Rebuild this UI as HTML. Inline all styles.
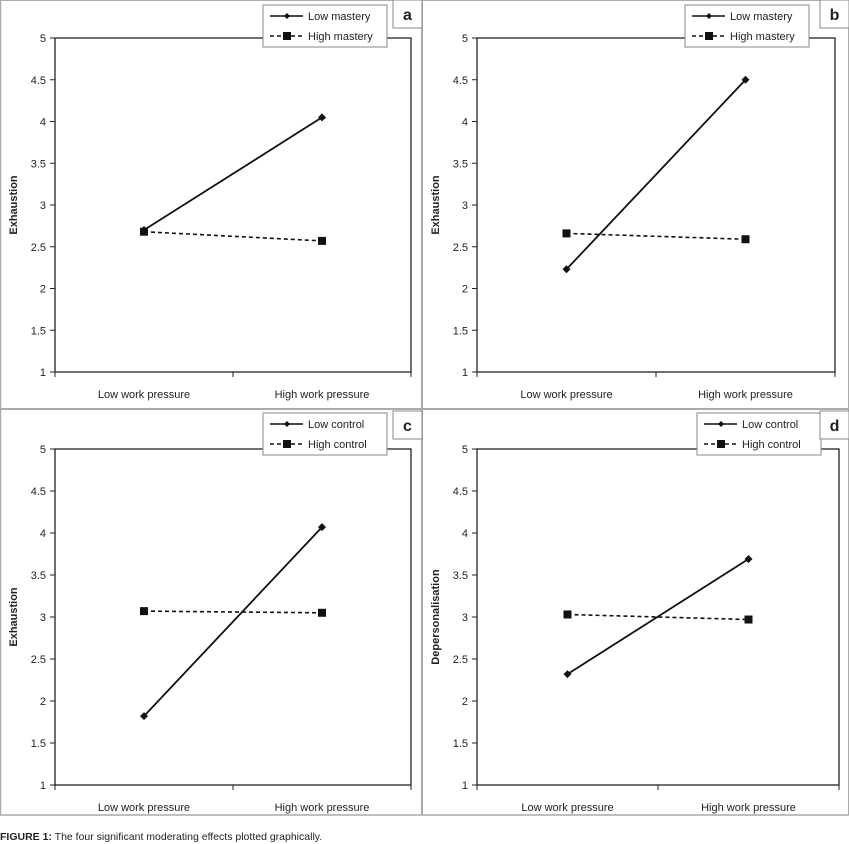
<!DOCTYPE html>
<html><head><meta charset="utf-8"><style>
body{margin:0;background:#fff;}
svg{display:block;font-family:"Liberation Sans",sans-serif;}
</style></head><body>
<svg id="fig" width="849" height="844"></svg>
<script>
const categories=["Low work pressure","High work pressure"];
const yTicks=[1,1.5,2,2.5,3,3.5,4,4.5,5];
const panelLabels=["a","b","c","d"];
const yTitles=["Exhaustion","Exhaustion","Exhaustion","Depersonalisation"];
const legendLow=["Low mastery","Low mastery","Low control","Low control"];
const legendHigh=["High mastery","High mastery","High control","High control"];
const lowSeries=[[2.70,4.05],[2.23,4.50],[1.82,4.07],[2.32,3.69]];
const highSeries=[[2.68,2.57],[2.66,2.59],[3.07,3.05],[3.03,2.97]];
const NS="http://www.w3.org/2000/svg";
const svg=document.getElementById('fig');
function mk(t,a,p){const e=document.createElementNS(NS,t);for(const k in a)e.setAttribute(k,a[k]);(p||svg).appendChild(e);return e;}
const frames=[{x0:0,y0:0,l:55,r:411,t:38,b:372},{x0:422,y0:0,l:477,r:835,t:38,b:372},
{x0:0,y0:410,l:55,r:411,t:449,b:785},{x0:422,y0:410,l:477,r:839,t:449,b:785}];
// panel borders
let e=mk('line',{x1:0.5,y1:0,x2:0.5,y2:815,stroke:'#aaa','stroke-width':1.5});

e=mk('line',{x1:422,y1:0,x2:422,y2:815,stroke:'#aaa','stroke-width':2});

e=mk('line',{x1:0,y1:409,x2:849,y2:409,stroke:'#aaa','stroke-width':2});

e=mk('line',{x1:0,y1:815,x2:849,y2:815,stroke:'#aaa','stroke-width':1.5});

e=mk('line',{x1:0,y1:0.5,x2:849,y2:0.5,stroke:'#aaa','stroke-width':1});

e=mk('line',{x1:848.5,y1:0,x2:848.5,y2:815,stroke:'#aaa','stroke-width':1});

frames.forEach((f,i)=>{
 const g=mk('g',{});
 
 
 const ys=v=>f.b-(v-1)/4*(f.b-f.t);
 const xs=j=>f.l+(j+0.5)/categories.length*(f.r-f.l);
 e=mk('rect',{x:f.l,y:f.t,width:f.r-f.l,height:f.b-f.t,fill:'none',stroke:'#222','stroke-width':1.3},g);
 
 yTicks.forEach(v=>{
  e=mk('line',{x1:f.l-5,y1:ys(v),x2:f.l,y2:ys(v),stroke:'#222'},g);
  
  e=mk('text',{x:f.l-9,y:ys(v)+4,'text-anchor':'end','font-size':11,fill:'#222'},g);
  e.textContent=String(v);
  
 });
 [0,1,2].forEach(k=>{const x=f.l+k/2*(f.r-f.l);
  e=mk('line',{x1:x,y1:f.b,x2:x,y2:f.b+5,stroke:'#222'},g);
  });
 categories.forEach((c,j)=>{
  e=mk('text',{x:xs(j),y:f.b+26,'text-anchor':'middle','font-size':11,fill:'#222'},g);
  e.textContent=c;
  
 });
 const cy=(f.t+f.b)/2;
 e=mk('text',{x:f.x0+17,y:cy,'text-anchor':'middle','font-size':11,'font-weight':'bold',fill:'#222',transform:`rotate(-90 ${f.x0+17} ${cy})`},g);
 e.textContent=yTitles[i];
 
 // series
 const hi=highSeries[i], lo=lowSeries[i];
 e=mk('line',{x1:xs(0),y1:ys(hi[0]),x2:xs(1),y2:ys(hi[1]),stroke:'#111','stroke-width':1.6,'stroke-dasharray':'4,3'},g);
 
 hi.forEach((v,j)=>{e=mk('rect',{x:xs(j)-4,y:ys(v)-4,width:8,height:8,fill:'#111'},g);
  });
 e=mk('line',{x1:xs(0),y1:ys(lo[0]),x2:xs(1),y2:ys(lo[1]),stroke:'#111','stroke-width':1.8},g);
 
 lo.forEach((v,j)=>{const x=xs(j),y=ys(v);
  e=mk('polygon',{points:`${x},${y-4} ${x+4},${y} ${x},${y+4} ${x-4},${y}`,fill:'#111'},g);
  });
 // legend
 const lx=f.r-148+(i==3?6:0)-(i==1?2:0), ly=f.y0+5+(i>=2?-2:0);
 const lg=mk('g',{},g);
 
 e=mk('rect',{x:lx,y:ly,width:124,height:42,fill:'#fff',stroke:'#888'},lg);
 
 e=mk('line',{x1:lx+7,y1:ly+11,x2:lx+40,y2:ly+11,stroke:'#111','stroke-width':1.6},lg);
 
 e=mk('polygon',{points:`${lx+24},${ly+8} ${lx+27},${ly+11} ${lx+24},${ly+14} ${lx+21},${ly+11}`,fill:'#111'},lg);
 
 e=mk('text',{x:lx+45,y:ly+15,'font-size':11,fill:'#222'},lg);e.textContent=legendLow[i];
 
 e=mk('line',{x1:lx+7,y1:ly+31,x2:lx+40,y2:ly+31,stroke:'#111','stroke-width':1.6,'stroke-dasharray':'4,3'},lg);
 
 e=mk('rect',{x:lx+20,y:ly+27,width:8,height:8,fill:'#111'},lg);
 
 e=mk('text',{x:lx+45,y:ly+35,'font-size':11,fill:'#222'},lg);e.textContent=legendHigh[i];
 
 // panel label
 const bx=f.x0+(i%2==0?393:398), by=f.y0+(i>=2?1:0);
 e=mk('rect',{x:bx,y:by,width:29,height:28,fill:'#fff',stroke:'#888'},g);
 
 e=mk('text',{x:bx+14.5,y:by+20,'text-anchor':'middle','font-size':16,'font-weight':'bold',fill:'#222'},g);
 e.textContent=panelLabels[i];
 
});
e=mk('text',{x:0,y:840,'font-size':10.5,fill:'#222'});

const b=mk('tspan',{'font-weight':'bold'},e);b.textContent='FIGURE 1:';
const t=mk('tspan',{},e);t.textContent=' The four significant moderating effects plotted graphically.';
</script>
</body></html>
